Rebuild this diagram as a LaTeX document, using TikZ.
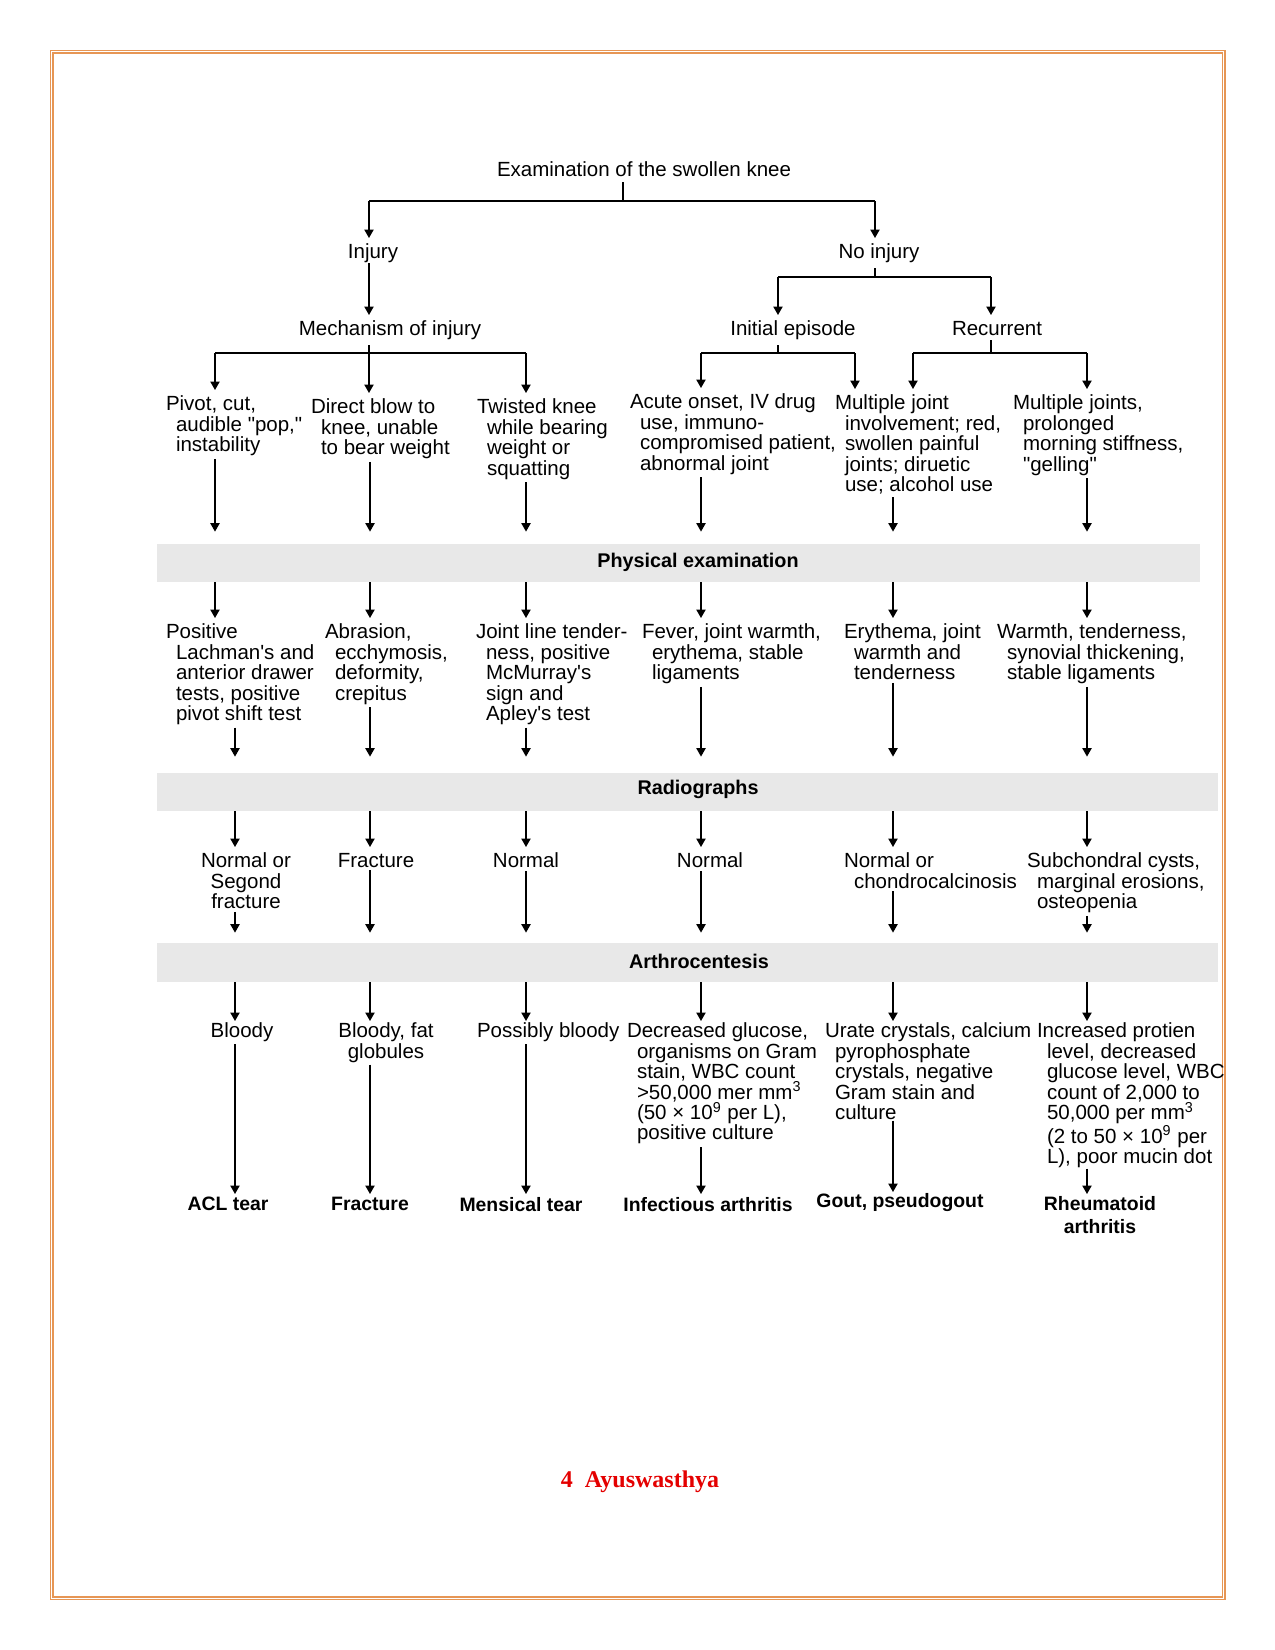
\documentclass[tikz,border=0pt]{standalone}
\usepackage{fontspec}
\setmainfont{Liberation Sans}[Ligatures=TeXOff]
\newfontfamily\footfont{Liberation Serif}
\usetikzlibrary{arrows.meta}
\definecolor{bandgray}{RGB}{232,232,232}
\definecolor{pageborder}{RGB}{230,150,85}
\definecolor{footred}{RGB}{228,0,0}
\newcommand{\ind}{\hspace*{5pt}}

\begin{document}
\begin{tikzpicture}[x=0.5pt, y=-0.5pt,
txt/.style={font=\fontsize{10.25pt}{10.2pt}\selectfont, inner sep=0pt, outer sep=0pt, align=left, anchor=north west},
ctxt/.style={txt, align=center, anchor=north},
head/.style={font=\fontsize{9.9pt}{11.5pt}\selectfont\bfseries, inner sep=0pt, align=center},
final/.style={font=\fontsize{9.7pt}{11.5pt}\selectfont\bfseries, inner sep=0pt, align=center, anchor=north},
band/.style={fill=bandgray, inner sep=0pt, minimum height=19pt},
link/.style={line width=0.65pt},
stem/.style={link, shorten <=2.5pt},
bar/.style={line width=1.1pt},
arr/.style={link, -{Triangle[length=4.2pt, width=4.6pt]}, shorten >=3pt}]
\useasboundingbox (0,0) rectangle (1275,1650);
\draw[pageborder, line width=0.7pt, double=white, double distance=0.6pt] (51.5,51.7) rectangle (1223.7,1598.3);

\coordinate (c1) at (215,0); \coordinate (c1b) at (235,0); \coordinate (c2) at (370,0);
\coordinate (c3) at (526,0); \coordinate (c4) at (701,0); \coordinate (c5) at (893,0);
\coordinate (c5a) at (855,0); \coordinate (c5b) at (913,0); \coordinate (c6) at (1087,0);
\coordinate (b0) at (623,201); \coordinate (b0l) at (369,201); \coordinate (b0r) at (875,201);
\coordinate (b1) at (369,353);
\coordinate (b2) at (875,277); \coordinate (b2l) at (778,277); \coordinate (b2r) at (991,277);
\coordinate (b3) at (778,353); \coordinate (b4) at (991,353);

\node[ctxt] (exam) at (644,162) {Examination of the swollen knee};
\node[ctxt] (injury) at (373,244) {Injury};
\node[ctxt] (noinj) at (879,244) {No injury};
\node[ctxt] (mech) at (390,321) {Mechanism of injury};
\node[ctxt] (initial) at (793,321) {Initial episode};
\node[ctxt] (recur) at (997,321) {Recurrent};

\node[txt] (pivot) at (166,396) {Pivot, cut,\\\ind audible "pop,"\\\ind instability};
\node[txt] (blow) at (311,399) {Direct blow to\\\ind knee, unable\\\ind to bear weight};
\node[txt] (twist) at (477,399) {Twisted knee\\\ind while bearing\\\ind weight or\\\ind squatting};
\node[txt] (acute) at (630,394) {Acute onset, IV drug\\\ind use, immuno-\\\ind compromised patient,\\\ind abnormal joint};
\node[txt] (multi) at (835,395) {Multiple joint\\\ind involvement; red,\\\ind swollen painful\\\ind joints; diruetic\\\ind use; alcohol use};
\node[txt] (multis) at (1013,395) {Multiple joints,\\\ind prolonged\\\ind morning stiffness,\\\ind "gelling"};

\node[band, minimum width=521.5pt] (pe) at (678.5,563) {};
\node[head] (pelbl) at (698,562) {Physical examination};

\node[txt] (lach) at (166,624) {Positive\\\ind Lachman's and\\\ind anterior drawer\\\ind tests, positive\\\ind pivot shift test};
\node[txt] (abr) at (325,624) {Abrasion,\\\ind ecchymosis,\\\ind deformity,\\\ind crepitus};
\node[txt] (joint) at (476,624) {Joint line tender-\\\ind ness, positive\\\ind McMurray's\\\ind sign and\\\ind Apley's test};
\node[txt] (fever) at (642,624) {Fever, joint warmth,\\\ind erythema, stable\\\ind ligaments};
\node[txt] (eryth) at (844,624) {Erythema, joint\\\ind warmth and\\\ind tenderness};
\node[txt] (warm) at (997,624) {Warmth, tenderness,\\\ind synovial thickening,\\\ind stable ligaments};

\node[band, minimum width=530.5pt] (rad) at (687.5,792) {};
\node[head] (radlbl) at (698,789) {Radiographs};

\node[ctxt] (segond) at (246,853) {Normal or\\Segond\\fracture};
\node[ctxt] (fract) at (376,853) {Fracture};
\node[ctxt] (norm3) at (526,853) {Normal};
\node[ctxt] (norm4) at (710,853) {Normal};
\node[txt] (chondro) at (844,853) {Normal or\\\ind chondrocalcinosis};
\node[txt] (subch) at (1027,853) {Subchondral cysts,\\\ind marginal erosions,\\\ind osteopenia};

\node[band, minimum width=530.5pt, minimum height=19.5pt] (arth) at (687.5,962.5) {};
\node[head] (arthlbl) at (699,961) {Arthrocentesis};

\node[ctxt] (bloody) at (242,1023) {Bloody};
\node[ctxt] (fat) at (386,1023) {Bloody, fat\\globules};
\node[txt] (possibly) at (477,1023) {Possibly bloody};
\node[txt] (decr) at (627,1023) {Decreased glucose,\\\ind organisms on Gram\\\ind stain, WBC count\\\ind >50,000 mer mm\textsuperscript{3}\\\ind (50 × 10\textsuperscript{9} per L),\\\ind positive culture};
\node[txt] (urate) at (825,1023) {Urate crystals, calcium\\\ind pyrophosphate\\\ind crystals, negative\\\ind Gram stain and\\\ind culture};
\node[txt] (prot) at (1037,1023) {Increased protien\\\ind level, decreased\\\ind glucose level, WBC\\\ind count of 2,000 to\\\ind 50,000 per mm\textsuperscript{3}\\\ind (2 to 50 × 10\textsuperscript{9} per\\\ind L), poor mucin dot};

\node[final] (acl) at (228,1197) {ACL tear};
\node[final] (fracfin) at (370,1197) {Fracture};
\node[final] (mens) at (521,1197) {Mensical tear};
\node[final] (infect) at (708,1197) {Infectious arthritis};
\node[final] (gout) at (900,1193) {Gout, pseudogout};
\node[final] (rheum) at (1100,1196) {Rheumatoid\\arthritis};

\node[font=\footfont\bfseries\fontsize{12pt}{14pt}\selectfont, text=footred] (foot) at (640,1482) {4~~Ayuswasthya};

\draw[stem] (exam.south -| b0) -- (b0);
\draw[bar] (b0l) -- (b0r);
\draw[arr] (b0l) -- (b0l |- injury.north);
\draw[arr] (b0r) -- (b0r |- noinj.north);
\draw[arr] (injury.south -| b0l) -- (b0l |- mech.north);
\draw[stem] (noinj.south -| b2) -- (b2);
\draw[bar] (b2l) -- (b2r);
\draw[arr] (b2l) -- (b2l |- initial.north);
\draw[arr] (b2r) -- (b2r |- recur.north);
\draw[stem] (mech.south -| b1) -- (b1);
\draw[bar] (c1 |- b1) -- (c3 |- b1);
\draw[arr] (c1 |- b1) -- (c1 |- pivot.north);
\draw[arr] (b1) -- (b1 |- blow.north);
\draw[arr] (c3 |- b1) -- (c3 |- twist.north);
\draw[stem] (initial.south -| b3) -- (b3);
\draw[bar] (c4 |- b3) -- (c5a |- b3);
\draw[arr] (c4 |- b3) -- (c4 |- acute.north);
\draw[arr] (c5a |- b3) -- (c5a |- multi.north);
\draw[stem] (recur.south -| b4) -- (b4);
\draw[bar] (c5b |- b4) -- (c6 |- b4);
\draw[arr] (c5b |- b4) -- (c5b |- multi.north);
\draw[arr] (c6 |- b4) -- (c6 |- multis.north);

\draw[arr, shorten <=1.5pt, shorten >=6pt] (pivot.south -| c1) -- (c1 |- pe.north);
\draw[arr, shorten <=1.5pt, shorten >=6pt] (blow.south -| c2) -- (c2 |- pe.north);
\draw[arr, shorten <=1.5pt, shorten >=6pt] (twist.south -| c3) -- (c3 |- pe.north);
\draw[arr, shorten <=1.5pt, shorten >=6pt] (acute.south -| c4) -- (c4 |- pe.north);
\draw[arr, shorten <=1.5pt, shorten >=6pt] (multi.south -| c5) -- (c5 |- pe.north);
\draw[arr, shorten <=1.5pt, shorten >=6pt] (multis.south -| c6) -- (c6 |- pe.north);

\draw[arr] (c1 |- pe.south) -- (c1 |- lach.north);
\draw[arr] (c2 |- pe.south) -- (c2 |- abr.north);
\draw[arr] (c3 |- pe.south) -- (c3 |- joint.north);
\draw[arr] (c4 |- pe.south) -- (c4 |- fever.north);
\draw[arr] (c5 |- pe.south) -- (c5 |- eryth.north);
\draw[arr] (c6 |- pe.south) -- (c6 |- warm.north);

\draw[arr, shorten <=1.5pt, shorten >=8pt] (lach.south -| c1b) -- (c1b |- rad.north);
\draw[arr, shorten <=1.5pt, shorten >=8pt] (abr.south -| c2) -- (c2 |- rad.north);
\draw[arr, shorten <=1.5pt, shorten >=8pt] (joint.south -| c3) -- (c3 |- rad.north);
\draw[arr, shorten <=1.5pt, shorten >=8pt] (fever.south -| c4) -- (c4 |- rad.north);
\draw[arr, shorten <=1.5pt, shorten >=8pt] (eryth.south -| c5) -- (c5 |- rad.north);
\draw[arr, shorten <=1.5pt, shorten >=8pt] (warm.south -| c6) -- (c6 |- rad.north);

\draw[arr] (c1b |- rad.south) -- (c1b |- segond.north);
\draw[arr] (c2 |- rad.south) -- (c2 |- fract.north);
\draw[arr] (c3 |- rad.south) -- (c3 |- norm3.north);
\draw[arr] (c4 |- rad.south) -- (c4 |- norm4.north);
\draw[arr] (c5 |- rad.south) -- (c5 |- chondro.north);
\draw[arr] (c6 |- rad.south) -- (c6 |- subch.north);

\draw[arr, shorten <=1.5pt, shorten >=5pt] (segond.south -| c1b) -- (c1b |- arth.north);
\draw[arr, shorten <=1.5pt, shorten >=5pt] (fract.south -| c2) -- (c2 |- arth.north);
\draw[arr, shorten <=1.5pt, shorten >=5pt] (norm3.south -| c3) -- (c3 |- arth.north);
\draw[arr, shorten <=1.5pt, shorten >=5pt] (norm4.south -| c4) -- (c4 |- arth.north);
\draw[arr, shorten <=1.5pt, shorten >=5pt] (chondro.south -| c5) -- (c5 |- arth.north);
\draw[arr, shorten <=1.5pt, shorten >=5pt] (subch.south -| c6) -- (c6 |- arth.north);

\draw[arr, shorten >=1pt] (c1b |- arth.south) -- (c1b |- bloody.north);
\draw[arr, shorten >=1pt] (c2 |- arth.south) -- (c2 |- fat.north);
\draw[arr, shorten >=1pt] (c3 |- arth.south) -- (c3 |- possibly.north);
\draw[arr, shorten >=1pt] (c4 |- arth.south) -- (c4 |- decr.north);
\draw[arr, shorten >=1pt] (c5 |- arth.south) -- (c5 |- urate.north);
\draw[arr, shorten >=1pt] (c6 |- arth.south) -- (c6 |- prot.north);

\draw[arr, shorten <=1pt, shorten >=1.5pt] (bloody.south -| c1b) -- (c1b |- acl.north);
\draw[arr, shorten <=1pt, shorten >=1.5pt] (fat.south -| c2) -- (c2 |- fracfin.north);
\draw[arr, shorten <=1pt, shorten >=1.5pt] (possibly.south -| c3) -- (c3 |- mens.north);
\draw[arr, shorten <=1.5pt, shorten >=1.5pt] (decr.south -| c4) -- (c4 |- infect.north);
\draw[arr, shorten <=0.5pt, shorten >=0.5pt] (urate.south -| c5) -- (c5 |- gout.north);
\draw[arr, shorten <=0.5pt, shorten >=1pt] (prot.south -| c6) -- (c6 |- rheum.north);
\end{tikzpicture}
\end{document}
